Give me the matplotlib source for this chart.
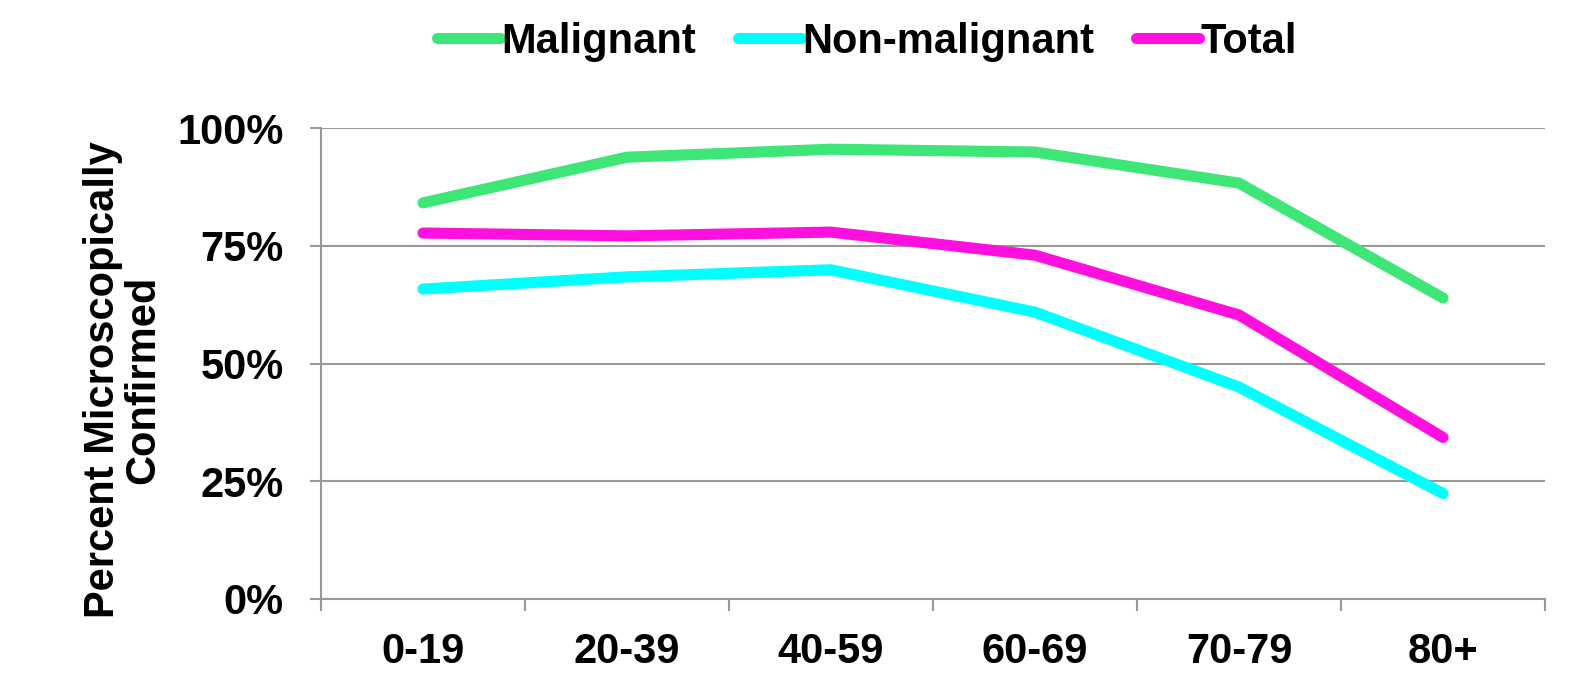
import matplotlib
matplotlib.use("Agg")
import matplotlib.pyplot as plt

age_groups = ["0-19", "20-39", "40-59", "60-69", "70-79", "80+"]
malignant = [84.1, 93.8, 95.5, 94.9, 88.3, 63.9]
non_malignant = [65.8, 68.4, 69.9, 60.9, 45.0, 22.4]
total = [77.7, 77.1, 77.9, 73.0, 60.3, 34.3]
y_ticks = [0, 25, 50, 75, 100]
y_tick_labels = ["0%", "25%", "50%", "75%", "100%"]

plt.rcParams["font.family"] = ["Liberation Sans", "DejaVu Sans"]
plt.rcParams["font.weight"] = "bold"

W, H = 1569, 677
fig = plt.figure(figsize=(W / 100, H / 100), dpi=100)
ax = fig.add_axes([321 / W, 1 - 599 / H, (1545 - 321) / W, (599 - 128) / H])

x = list(range(len(age_groups)))
series = [
    ("Malignant", malignant, "#3EE577"),
    ("Non-malignant", non_malignant, "#00FFFF"),
    ("Total", total, "#FF10DF"),
]
for name, vals, color in series:
    ax.plot(x, vals, color=color, lw=8, solid_capstyle="round",
            solid_joinstyle="miter", label=name)

grid_color = "#999999"
ax.set_xlim(-0.5, len(age_groups) - 0.5)
ax.set_ylim(0, 100)
ax.set_yticks(y_ticks)
ax.set_yticklabels(y_tick_labels)
ax.yaxis.grid(True, color=grid_color, lw=1.5)
ax.set_axisbelow(True)

ax.set_xticks(x)
ax.set_xticklabels(age_groups)
ax.set_xticks([i - 0.5 for i in range(len(age_groups) + 1)], minor=True)
ax.tick_params(axis="x", which="major", length=0, pad=24, labelsize=30)
ax.tick_params(axis="x", which="minor", length=8.6, width=1.5, color=grid_color)
ax.tick_params(axis="y", length=8, width=1.5, color=grid_color, pad=19, labelsize=30)

for side in ["top", "right"]:
    ax.spines[side].set_visible(False)
for side in ["left", "bottom"]:
    ax.spines[side].set_color(grid_color)
    ax.spines[side].set_linewidth(1.5)

ax.set_ylabel("Percent Microscopically\nConfirmed", fontsize=30, fontweight="bold",
              linespacing=1.0)
ax.yaxis.set_label_coords(-0.129, 0.465)

ax.legend(loc="center left", bbox_to_anchor=(437 / W, 1 - 42 / H),
          bbox_transform=fig.transFigure, ncol=3, frameon=False,
          fontsize=30, handlelength=1.5, handletextpad=0.05, columnspacing=1.0,
          borderaxespad=0, borderpad=0)

fig.savefig("out.png", dpi=100)
